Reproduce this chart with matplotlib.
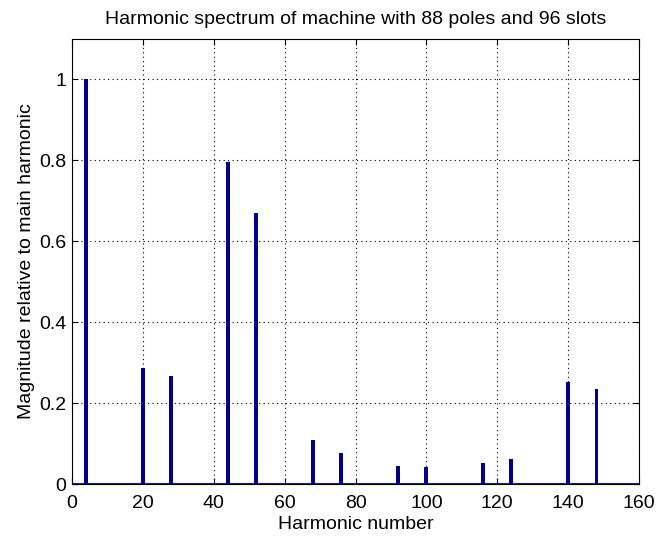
import matplotlib
matplotlib.use("Agg")
import matplotlib.pyplot as plt

# harmonic numbers and relative magnitudes
harmonics = [4, 20, 28, 44, 52, 68, 76, 92, 100, 116, 124, 140, 148]
magnitudes = [1.0, 0.287, 0.268, 0.795, 0.671, 0.109, 0.077, 0.045, 0.042, 0.052, 0.061, 0.251, 0.235]

xticks = [0, 20, 40, 60, 80, 100, 120, 140, 160]
yticks = [0, 0.2, 0.4, 0.6, 0.8, 1.0]
ytick_labels = ["0", "0.2", "0.4", "0.6", "0.8", "1"]

plt.rcParams["font.family"] = ["Liberation Sans", "DejaVu Sans"]

fig = plt.figure(figsize=(6.57, 5.39), dpi=100)
ax = fig.add_axes([0.1096, 0.102, 0.863, 0.8256])

ax.bar(harmonics, magnitudes, width=1.1, color="#00008B", zorder=3)
ax.axhline(0, color="#00008B", linewidth=2, zorder=4)

ax.set_xlim(0, 160)
ax.set_ylim(0, 1.1)
ax.set_xticks(xticks)
ax.set_yticks(yticks)
ax.set_yticklabels(ytick_labels)
ax.grid(True, linestyle=(0, (1, 3)), color="black", linewidth=0.8, zorder=0)
ax.tick_params(direction="in", length=4, top=True, right=True, labelsize=14)
ax.tick_params(axis="x", pad=8)
ax.tick_params(axis="y", pad=4)
for s in ax.spines.values():
    s.set_linewidth(0.8)

ax.set_xlabel("Harmonic number", fontsize=14, labelpad=3)
ax.set_ylabel("Magnitude relative to main harmonic", fontsize=14, labelpad=3)
ax.set_title("Harmonic spectrum of machine with 88 poles and 96 slots", fontsize=14, pad=11)

fig.savefig("out.png", dpi=100)
